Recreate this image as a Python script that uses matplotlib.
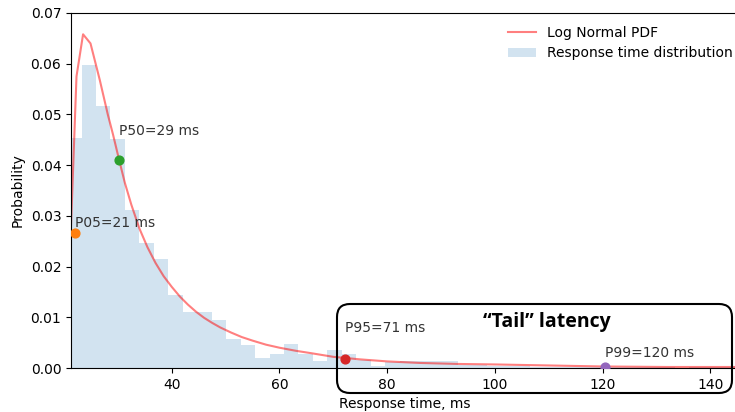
import numpy as np
import matplotlib
matplotlib.use("Agg")
import matplotlib.pyplot as plt
from matplotlib.patches import FancyBboxPatch

# histogram of response times (probability per bin)
bin_start = 20.57
bin_width = 2.685
bin_heights = [0.0453, 0.0598, 0.0517, 0.0451, 0.0312, 0.0247, 0.0214, 0.0144,
               0.0111, 0.0111, 0.0095, 0.0057, 0.0045, 0.0020, 0.0027, 0.0047,
               0.0028, 0.0013, 0.0036, 0.0027, 0.0016, 0.0004, 0.0012, 0.0013,
               0.0014, 0.0014, 0.0014, 0.0005, 0.0005, 0.0004, 0.0003, 0.0004,
               0.0002, 0.0002, 0.0001, 0.0002, 0.0001, 0.0001, 0.0002, 0.0001,
               0.0001, 0.0001, 0.0000, 0.0001, 0.0001, 0.0002, 0.0004]

# log normal pdf curve
pdf_x = [21.3, 22.32, 23.54, 24.92, 26.64, 28.13, 29.11, 30.17, 31.3, 32.5,
         34.0, 35.5, 37.0, 38.5, 40.0, 41.5, 43.0, 44.5, 46.0, 47.5,
         49.0, 51.0, 53.0, 55.0, 57.5, 60.0, 63.0, 66.0, 70.0, 75.0,
         80.0, 86.0, 93.0, 100.0, 110.0, 120.0, 132.0, 146.0]
pdf_y = [0.028, 0.0575, 0.0658, 0.0640, 0.0568, 0.0500, 0.0460, 0.0413, 0.0365, 0.0322,
         0.0275, 0.0238, 0.0207, 0.0181, 0.0160, 0.0141, 0.0125, 0.0111, 0.0099, 0.0089,
         0.0080, 0.0070, 0.0061, 0.0054, 0.0046, 0.0040, 0.0034, 0.0029, 0.0022, 0.0017,
         0.0013, 0.0010, 0.0008, 0.0007, 0.0005, 0.0003, 0.0002, 0.0002]

# percentiles
pct_labels = ["P05=21 ms", "P50=29 ms", "P95=71 ms", "P99=120 ms"]
pct_x = [22.0, 30.17, 72.1, 120.5]
pct_y = [0.0266, 0.0410, 0.0018, 0.0002]
pct_text_y = [0.0286, 0.0468, 0.0078, 0.0029]
pct_colors = ["tab:orange", "tab:green", "tab:red", "tab:purple"]


fig = plt.figure(figsize=(7.35, 4.12), dpi=100)
ax = fig.add_axes([71 / 735, 1 - 368 / 412, (739 - 71) / 735, (368 - 13) / 412])

edges = bin_start + bin_width * np.arange(len(bin_heights) + 1)
line, = ax.plot(pdf_x, pdf_y, color="red", alpha=0.5, lw=1.5, label="Log Normal PDF")
hist = ax.stairs(bin_heights, edges, fill=True, color="tab:blue", alpha=0.2,
                 label="Response time distribution")

for lab, x, y, ty, c in zip(pct_labels, pct_x, pct_y, pct_text_y, pct_colors):
    ax.scatter([x], [y], s=40, color=c, zorder=3)
    ax.text(x, ty, lab, fontsize=10, ha="left", va="center", color="#333333")

ax.set_xlim(21.3, 145.3)
ax.set_ylim(0, 0.07)
ax.set_xticks([40, 60, 80, 100, 120, 140])
ax.set_xlabel("Response time, ms")
ax.set_ylabel("Probability")
ax.legend(handles=[line, hist], loc="upper right", frameon=False,
          bbox_to_anchor=(745 / 735, 1 - 13 / 412), bbox_transform=fig.transFigure)

# "Tail" latency box (inches, so the corners stay round)
box = FancyBboxPatch((3.37, 0.19), 3.95, 0.89, boxstyle="round,pad=0,rounding_size=0.13",
                     transform=fig.dpi_scale_trans, fill=False, ec="black", lw=1.5)
fig.patches.append(box)
fig.text(547 / 735, 1 - 322 / 412, "\u201cTail\u201d latency", fontsize=14,
         fontweight="bold", family="Open Sans", ha="center", va="center")

fig.savefig("out.png", dpi=100)
